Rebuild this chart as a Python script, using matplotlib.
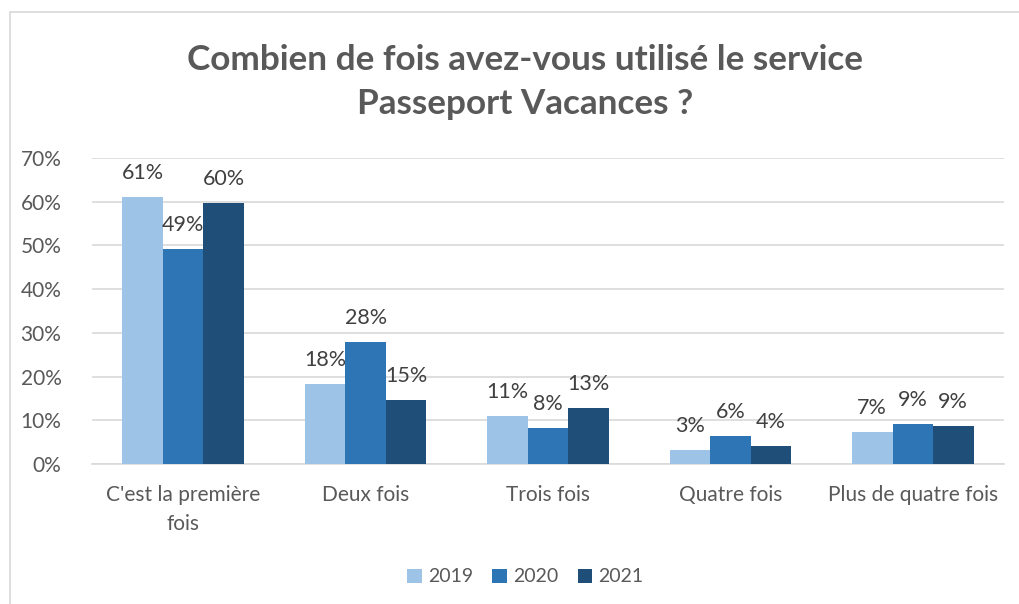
import numpy as np
import matplotlib
matplotlib.use("Agg")
from matplotlib import pyplot as plt
from matplotlib.patches import Rectangle

categories = ["C'est la première\nfois", "Deux fois", "Trois fois", "Quatre fois", "Plus de quatre fois"]
years = ["2019", "2020", "2021"]
v2019 = [61.0, 18.3, 11.0, 3.2, 7.3]
v2020 = [49.2, 27.9, 8.2, 6.4, 9.2]
v2021 = [59.7, 14.6, 12.8, 4.1, 8.7]
colors = ["#9DC3E6", "#2E75B6", "#1F4E79"]

plt.rcParams["font.family"] = ["Lato", "DejaVu Sans"]

fig = plt.figure(figsize=(10.2, 6.04), dpi=100)
ax = fig.add_axes([92 / 1020, 1 - 464 / 604, 912 / 1020, 306 / 604])

# chart border
fig.patches.append(Rectangle((10 / 1020, -0.01), 1.2, 1 - 12 / 604 + 0.01, transform=fig.transFigure,
                             fill=False, edgecolor="#D9D9D9", linewidth=1.2))

x = np.arange(len(categories))
w = 0.222
for i, (vals, col) in enumerate(zip([v2019, v2020, v2021], colors)):
    bars = ax.bar(x + (i - 1) * w, vals, w, color=col, label=years[i], zorder=3)
    for b, v in zip(bars, vals):
        ax.text(b.get_x() + b.get_width() / 2, v + 3.2, "%d%%" % round(v),
                ha="center", va="bottom", fontsize=15.5, color="#404040")

ax.set_xlim(-0.5, len(categories) - 0.5)
ax.set_ylim(0, 70)
ax.set_yticks(range(0, 71, 10))
ax.set_yticklabels(["%d%%" % t for t in range(0, 71, 10)])
ax.yaxis.grid(True, color="#D9D9D9", linewidth=1.2, zorder=0)
ax.set_xticks(x)
ax.set_xticklabels(categories, fontsize=15, color="#595959", linespacing=1.6)
ax.tick_params(axis="y", labelsize=15, labelcolor="#595959", length=0, pad=22)
ax.tick_params(axis="x", length=0, pad=15)
for s in ["top", "right", "left"]:
    ax.spines[s].set_visible(False)
ax.spines["bottom"].set_color("#D9D9D9")
ax.spines["bottom"].set_linewidth(1.2)

fig.text(0.515, 1 - 82 / 604, "Combien de fois avez-vous utilisé le service\nPasseport Vacances ?",
         ha="center", va="center", fontsize=25.3, fontweight="bold", color="#595959", linespacing=1.45)

fig.legend(loc="center", bbox_to_anchor=(0.515, 1 - 577 / 604), ncol=3, frameon=False,
           fontsize=14, handlelength=0.75, handleheight=0.75, handletextpad=0.3, columnspacing=1.0,
           labelcolor="#595959")

fig.savefig("out.png", dpi=100)
